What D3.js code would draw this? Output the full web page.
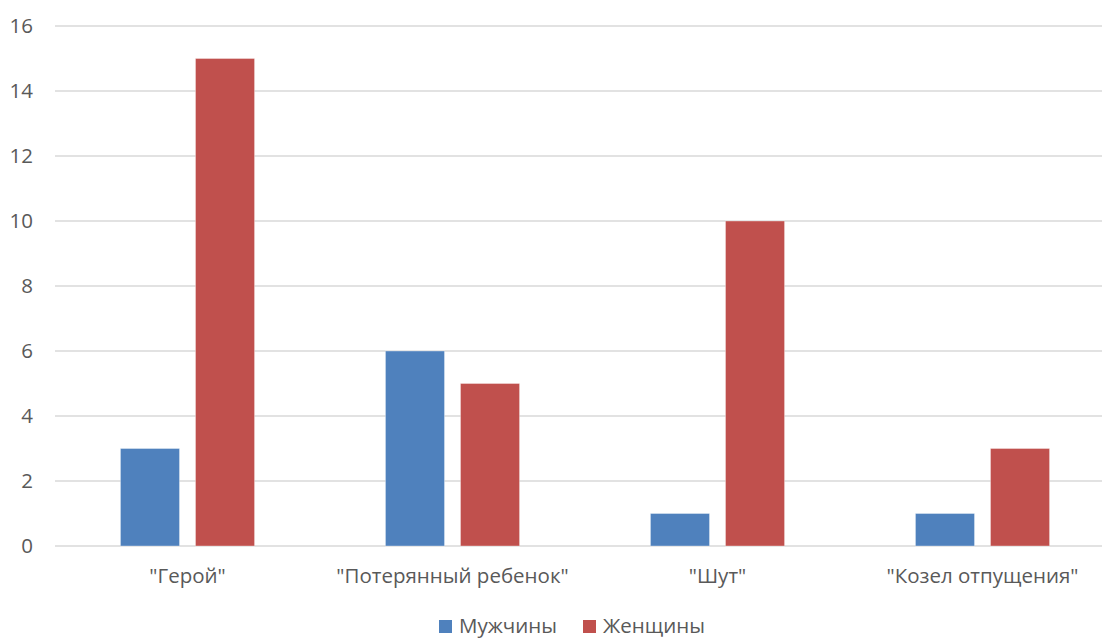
<!DOCTYPE html>
<html>
<head>
<meta charset="utf-8">
<script src="https://cdn.jsdelivr.net/npm/d3@7"></script>
<style>
  body { margin: 0; background: #fff; }
  text { font-family: "Open Sans", "Noto Sans", sans-serif; fill: #595959; }
</style>
</head>
<body>
<div id="chart"></div>
<script>
// data
var categories = ['"Герой"', '"Потерянный ребенок"', '"Шут"', '"Козел отпущения"'];
var seriesNames = ["Мужчины", "Женщины"];
var men = [3, 6, 1, 1];
var women = [15, 5, 10, 3];
var yTicks = [0, 2, 4, 6, 8, 10, 12, 14, 16];
var colors = ["#4F81BD", "#C0504D"];

var W = 1102, H = 639;
var margin = { top: 26, right: -13, bottom: 93, left: 55 };
var width = W - margin.left - margin.right,
    height = H - margin.top - margin.bottom;

var svg = d3.select("#chart").append("svg")
  .attr("width", W).attr("height", H)
  .append("g")
  .attr("transform", "translate(" + margin.left + "," + margin.top + ")");

var x0 = d3.scaleBand().domain(categories).range([0, width]);
// cluster of two bars takes about half of each band
var bw = x0.bandwidth(), cluster = bw * 0.506;
var x1 = d3.scaleBand().domain(seriesNames)
  .range([(bw - cluster) / 2, (bw + cluster) / 2]).paddingInner(0.213);
var y = d3.scaleLinear().domain([0, 16]).range([height, 0]);

// gridlines
svg.selectAll("line.grid").data(yTicks).enter().append("line")
  .attr("class", "grid")
  .attr("x1", 0).attr("x2", width)
  .attr("y1", function(d) { return y(d); })
  .attr("y2", function(d) { return y(d); })
  .attr("stroke", "#d9d9d9").attr("stroke-width", 1.3);

// y axis labels
var yAxis = d3.axisLeft(y).tickValues(yTicks).tickSize(0).tickPadding(22);
var gy = svg.append("g").call(yAxis);
gy.select(".domain").remove();
gy.selectAll("text").style("font-size", "20.5px").attr("fill", "#595959");

// bars
var rows = categories.map(function(c, i) { return { cat: c, vals: [men[i], women[i]] }; });
var groups = svg.selectAll("g.grp").data(rows).enter().append("g")
  .attr("transform", function(d) { return "translate(" + x0(d.cat) + ",0)"; });
groups.selectAll("rect").data(function(d) {
    return d.vals.map(function(v, j) { return { name: seriesNames[j], v: v, j: j }; });
  }).enter().append("rect")
  .attr("x", function(d) { return x1(d.name); })
  .attr("width", x1.bandwidth())
  .attr("y", function(d) { return y(d.v); })
  .attr("height", function(d) { return height - y(d.v); })
  .attr("fill", function(d) { return colors[d.j]; })
  .attr("stroke", "rgba(255,255,255,0.35)").attr("stroke-width", 1);

// x labels
var xAxis = d3.axisBottom(x0).tickSize(0).tickPadding(22);
var gx = svg.append("g").attr("transform", "translate(0," + height + ")").call(xAxis);
gx.select(".domain").remove();
gx.selectAll("text").style("font-size", "20.5px").attr("fill", "#595959");

// legend
var legend = d3.select("svg").append("g").attr("transform", "translate(439,620)");
var lx = [0, 144];
seriesNames.forEach(function(n, i) {
  var g = legend.append("g").attr("transform", "translate(" + lx[i] + ",0)");
  g.append("rect").attr("width", 13).attr("height", 13).attr("fill", colors[i]);
  g.append("text").attr("x", 20).attr("y", 13).style("font-size", "20.5px").text(n);
});
</script>
</body>
</html>
